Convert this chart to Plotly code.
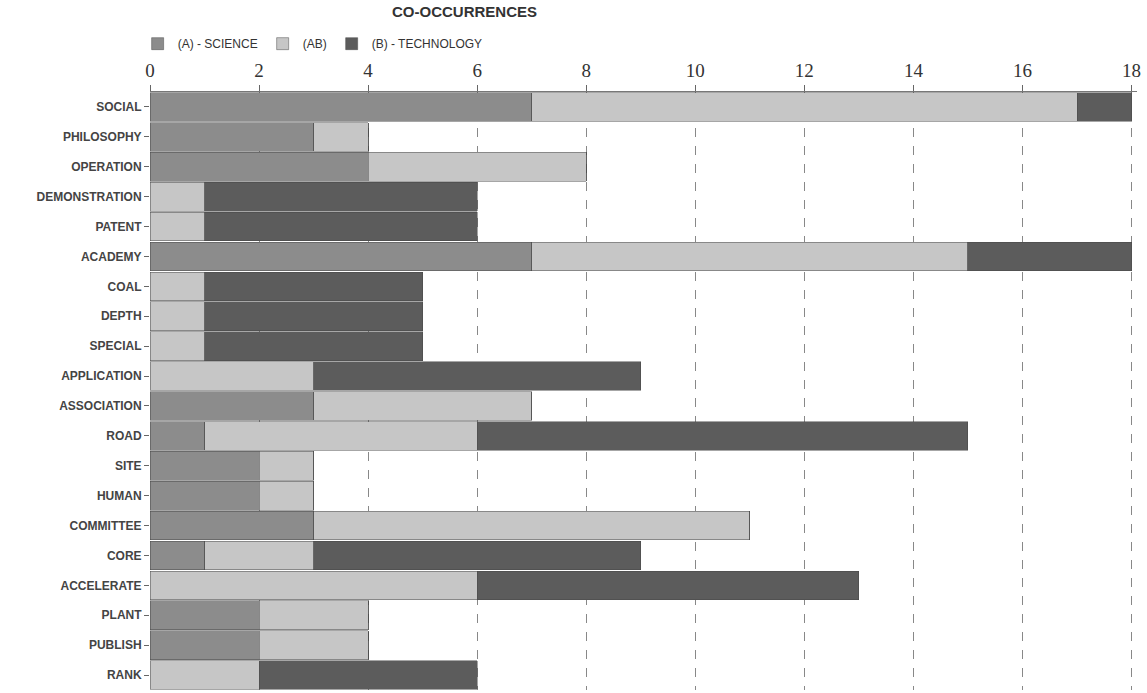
import plotly.graph_objects as go

categories = ["SOCIAL", "PHILOSOPHY", "OPERATION", "DEMONSTRATION", "PATENT", "ACADEMY",
              "COAL", "DEPTH", "SPECIAL", "APPLICATION", "ASSOCIATION", "ROAD", "SITE",
              "HUMAN", "COMMITTEE", "CORE", "ACCELERATE", "PLANT", "PUBLISH", "RANK"]
science = [7, 3, 4, 0, 0, 7, 0, 0, 0, 0, 3, 1, 2, 2, 3, 1, 0, 2, 2, 0]
ab = [10, 1, 4, 1, 1, 8, 1, 1, 1, 3, 4, 5, 1, 1, 8, 2, 6, 2, 2, 2]
technology = [1, 0, 0, 5, 5, 3, 4, 4, 4, 6, 0, 9, 0, 0, 0, 6, 7, 0, 0, 4]
tick_vals = [0, 2, 4, 6, 8, 10, 12, 14, 16, 18]

series = [("(A) - SCIENCE", science, "#8c8c8c"),
          ("(AB)", ab, "#c6c6c6"),
          ("(B) - TECHNOLOGY", technology, "#5c5c5c")]

fig = go.Figure()
for name, vals, color in series:
    fig.add_trace(go.Bar(
        y=categories, x=vals, name=name, orientation="h",
        marker=dict(color=color, line=dict(color="rgba(70,70,70,0.6)", width=0.8)),
    ))

fig.update_layout(
    width=1147, height=693,
    barmode="stack", bargap=0.04,
    plot_bgcolor="white", paper_bgcolor="white",
    margin=dict(l=150, r=10, t=92, b=3, autoexpand=False),
    showlegend=True,
    title=dict(text="<b>CO-OCCURRENCES</b>", x=0.405, xanchor="center", y=0.99, yanchor="top",
               font=dict(family="Arial, Liberation Sans", size=15, color="#333")),
    legend=dict(orientation="h", x=0.12, xref="container", xanchor="left",
                y=0.937, yref="container", yanchor="middle",
                font=dict(family="Arial, Liberation Sans", size=12, color="#333"),
                traceorder="normal"),
)
fig.update_xaxes(side="top", range=[0, 18.1], tickvals=tick_vals, automargin=False,
                 showgrid=True, gridcolor="#888", griddash="dash", gridwidth=1,
                 ticks="outside", ticklen=6, tickcolor="#666",
                 showline=True, linecolor="#777",
                 tickfont=dict(family="Liberation Serif, Times New Roman", size=19, color="#333"),
                 zeroline=False)
fig.update_yaxes(autorange="reversed", ticks="outside", ticklen=5, tickcolor="#666",
                 showline=False, automargin=False,
                 tickprefix="<b>", ticksuffix="</b>",
                 tickfont=dict(family="Arial, Liberation Sans", size=12, color="#444"))

fig.write_html("out.html")
